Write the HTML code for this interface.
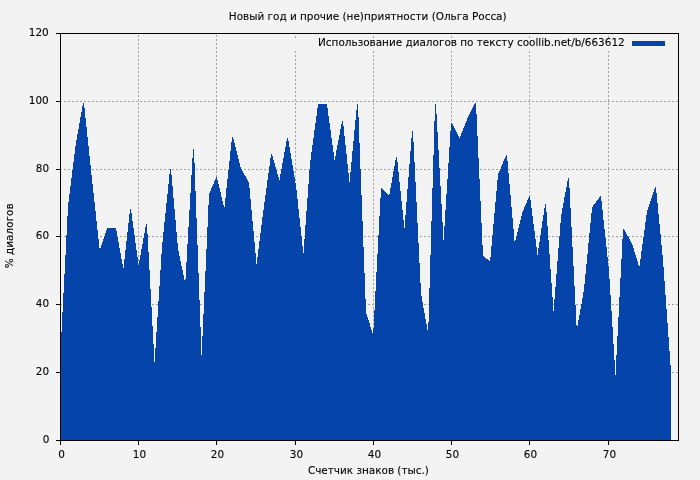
<!DOCTYPE html>
<html lang="ru"><head><meta charset="utf-8"><title>Новый год и прочие (не)приятности (Ольга Росса)</title>
<style>html,body{margin:0;padding:0;background:#f3f3f3;overflow:hidden}svg{display:block}text{font-family:"DejaVu Sans","Liberation Sans",sans-serif;font-size:10.45px;fill:#000;stroke:#000;stroke-width:0.1px}</style></head><body>
<svg width="700" height="480" viewBox="0 0 700 480">
<rect width="700" height="480" fill="#f3f3f3"/>
<g stroke="#a0a0a0" stroke-width="1" stroke-dasharray="2 2" shape-rendering="crispEdges" fill="none">
<line x1="138.5" y1="35" x2="138.5" y2="440"/>
<line x1="216.5" y1="35" x2="216.5" y2="440"/>
<line x1="295.5" y1="51" x2="295.5" y2="440"/>
<line x1="295.5" y1="36" x2="295.5" y2="38"/>
<line x1="373.5" y1="51" x2="373.5" y2="440"/>
<line x1="373.5" y1="36" x2="373.5" y2="38"/>
<line x1="451.5" y1="51" x2="451.5" y2="440"/>
<line x1="451.5" y1="36" x2="451.5" y2="38"/>
<line x1="529.5" y1="51" x2="529.5" y2="440"/>
<line x1="529.5" y1="36" x2="529.5" y2="38"/>
<line x1="608.5" y1="51" x2="608.5" y2="440"/>
<line x1="608.5" y1="36" x2="608.5" y2="38"/>
<line x1="60" y1="372.5" x2="678" y2="372.5"/>
<line x1="60" y1="304.5" x2="678" y2="304.5"/>
<line x1="60" y1="236.5" x2="678" y2="236.5"/>
<line x1="60" y1="169.5" x2="678" y2="169.5"/>
<line x1="60" y1="101.5" x2="678" y2="101.5"/>
</g>
<path d="M60,441V351H61V332H62V312H63V293H64V274H65V255H66V235H67V216H68V202H69V194H70V186H71V178H72V170H73V162H74V154H75V146H76V140H77V134H78V129H79V123H80V117H81V112H82V106H83V103H84V108H85V118H86V127H87V137H88V146H89V156H90V165H91V175H92V184H93V193H94V202H95V211H96V221H97V230H98V239H99V248H101V245H102V242H103V239H104V236H105V233H106V230H107V228H116V231H117V237H118V242H119V248H120V253H121V259H122V264H123V268H124V259H125V250H126V241H127V232H128V223H129V214H130V209H131V213H132V221H133V228H134V235H135V243H136V250H137V257H138V265H139V260H140V255H141V249H142V244H143V238H144V233H145V227H146V224H147V234H148V252H149V270H150V289H151V307H152V326H153V344H154V362H155V348H156V332H157V317H158V301H159V286H160V270H161V254H162V242H163V232H164V222H165V213H166V203H167V194H168V184H169V174H170V169H171V175H172V186H173V198H174V209H175V220H176V232H177V243H178V251H179V256H180V261H181V266H182V270H183V275H184V280H185V279H186V262H187V244H188V227H189V210H190V193H191V175H192V158H193V149H194V163H195V191H196V218H197V245H198V273H199V300H200V327H201V355H202V336H203V314H204V292H205V271H206V249H207V227H208V205H209V193H210V191H211V188H212V186H213V184H214V181H215V179H216V177H217V180H218V184H219V188H220V192H221V197H222V201H223V205H224V207H225V198H226V188H227V179H228V170H229V161H230V151H231V142H232V137H233V139H234V143H235V147H236V151H237V155H238V159H239V163H240V167H241V169H242V171H243V173H244V175H245V176H246V178H247V180H248V182H249V188H250V199H251V210H252V221H253V231H254V242H255V253H256V264H257V257H258V249H259V241H260V233H261V225H262V217H263V210H264V202H265V195H266V188H267V180H268V173H269V166H270V158H271V154H272V156H273V160H274V163H275V167H276V170H277V174H278V177H279V180H280V174H281V169H282V163H283V158H284V152H285V147H286V141H287V138H288V141H289V147H290V153H291V159H292V165H293V171H294V177H295V183H296V190H297V199H298V209H299V218H300V227H301V236H302V246H303V253H304V239H305V225H306V211H307V198H308V184H309V170H310V160H311V152H312V145H313V138H314V130H315V123H316V116H317V108H318V104H327V108H328V116H329V123H330V130H331V138H332V145H333V152H334V160H335V156H336V150H337V145H338V140H339V135H340V129H341V124H342V121H343V126H344V136H345V145H346V154H347V164H348V173H349V182H350V172H351V162H352V151H353V141H354V130H355V120H356V110H357V104H358V117H359V143H360V169H361V195H362V221H363V247H364V273H365V299H366V314H367V317H368V320H369V323H370V327H371V330H372V333H373V328H374V310H375V291H376V272H377V254H378V235H379V216H380V198H381V188H382V189H383V190H384V191H385V192H386V193H387V194H388V195H389V194H390V188H391V183H392V177H393V171H394V166H395V160H396V157H397V162H398V172H399V182H400V191H401V201H402V210H403V220H404V228H405V215H406V202H407V189H408V177H409V164H410V151H411V138H412V131H413V142H414V162H415V182H416V202H417V223H418V243H419V263H420V283H421V296H422V302H423V308H424V313H425V319H426V324H427V330H428V322H429V288H430V255H431V221H432V188H433V155H434V121H435V104H436V114H437V132H438V150H439V168H440V186H441V204H442V222H443V240H444V226H445V210H446V194H447V179H448V163H449V147H450V131H451V123H452V124H453V126H454V128H455V130H456V132H457V134H458V136H459V138H460V136H461V133H462V131H463V128H464V126H465V123H466V121H467V118H468V116H469V114H470V112H471V110H472V108H473V106H474V104H475V103H476V114H477V136H478V158H479V179H480V201H481V223H482V245H483V256H484V257H485V258H486V259H488V260H489V261H490V257H491V246H492V235H493V224H494V213H495V202H496V191H497V180H498V173H499V171H500V169H501V166H502V164H503V161H504V159H505V157H506V155H507V161H508V173H509V184H510V195H511V207H512V218H513V229H514V241H515V240H516V236H517V232H518V228H519V224H520V220H521V216H522V212H523V210H524V207H525V205H526V203H527V200H528V198H529V196H530V200H531V208H532V216H533V224H534V231H535V239H536V247H537V255H538V248H539V242H540V235H541V228H542V221H543V215H544V208H545V204H546V212H547V226H548V240H549V254H550V269H551V283H552V297H553V311H554V299H555V287H556V274H557V261H558V248H559V236H560V223H561V214H562V208H563V203H564V197H565V192H566V187H567V181H568V178H569V188H570V208H571V227H572V247H573V266H574V286H575V305H576V325H577V326H578V320H579V315H580V309H581V304H582V298H583V292H584V284H585V274H586V264H587V254H588V243H589V233H590V223H591V213H592V207H593V205H594V204H595V203H596V201H597V200H598V199H599V197H600V196H601V201H602V210H603V220H604V229H605V238H606V247H607V257H608V266H609V279H610V295H611V311H612V327H613V344H614V360H615V375H616V355H617V336H618V317H619V297H620V278H621V259H622V239H623V229H624V230H625V232H626V234H627V236H628V237H629V239H630V241H631V243H632V245H633V248H634V252H635V255H636V258H637V261H638V265H639V266H640V259H641V251H642V244H643V237H644V230H645V222H646V215H647V210H648V207H649V204H650V201H651V198H652V195H653V192H654V189H655V187H656V193H657V203H658V214H659V224H660V234H661V245H662V255H663V267H664V281H665V295H666V309H667V323H668V337H669V351H670V365H671V441Z" fill="#0545ab" shape-rendering="crispEdges"/>
<g stroke="#000" stroke-width="1" shape-rendering="crispEdges" fill="none">
<rect x="60.5" y="33.5" width="618" height="407"/>
<line x1="60.5" y1="440" x2="60.5" y2="445"/>
<line x1="138.5" y1="440" x2="138.5" y2="445"/>
<line x1="216.5" y1="440" x2="216.5" y2="445"/>
<line x1="295.5" y1="440" x2="295.5" y2="445"/>
<line x1="373.5" y1="440" x2="373.5" y2="445"/>
<line x1="451.5" y1="440" x2="451.5" y2="445"/>
<line x1="529.5" y1="440" x2="529.5" y2="445"/>
<line x1="608.5" y1="440" x2="608.5" y2="445"/>
<line x1="56" y1="440.5" x2="61" y2="440.5"/>
<line x1="56" y1="372.5" x2="61" y2="372.5"/>
<line x1="56" y1="304.5" x2="61" y2="304.5"/>
<line x1="56" y1="236.5" x2="61" y2="236.5"/>
<line x1="56" y1="169.5" x2="61" y2="169.5"/>
<line x1="56" y1="101.5" x2="61" y2="101.5"/>
<line x1="56" y1="33.5" x2="61" y2="33.5"/>
</g>
<rect x="632" y="41" width="33" height="5" fill="#0545ab" shape-rendering="crispEdges"/>
<text x="624.7" y="45.65" text-anchor="end">Использование диалогов по тексту coollib.net/b/663612</text>
<text x="367.7" y="19.8" text-anchor="middle">Новый год и прочие (не)приятности (Ольга Росса)</text>
<text x="368.4" y="473.8" text-anchor="middle">Счетчик знаков (тыс.)</text>
<text transform="translate(12.7,235.8) rotate(-90)" text-anchor="middle">% диалогов</text>
<text x="61.5" y="457.8" text-anchor="middle">0</text>
<text x="139.5" y="457.8" text-anchor="middle">10</text>
<text x="217.5" y="457.8" text-anchor="middle">20</text>
<text x="296.5" y="457.8" text-anchor="middle">30</text>
<text x="374.5" y="457.8" text-anchor="middle">40</text>
<text x="452.5" y="457.8" text-anchor="middle">50</text>
<text x="530.5" y="457.8" text-anchor="middle">60</text>
<text x="609.5" y="457.8" text-anchor="middle">70</text>
<text x="42.8" y="442.9">0</text>
<text x="35.8" y="374.9">20</text>
<text x="35.8" y="306.9">40</text>
<text x="35.8" y="238.9">60</text>
<text x="35.8" y="171.9">80</text>
<text x="28.8" y="103.9">100</text>
<text x="28.8" y="35.9">120</text>
</svg></body></html>
